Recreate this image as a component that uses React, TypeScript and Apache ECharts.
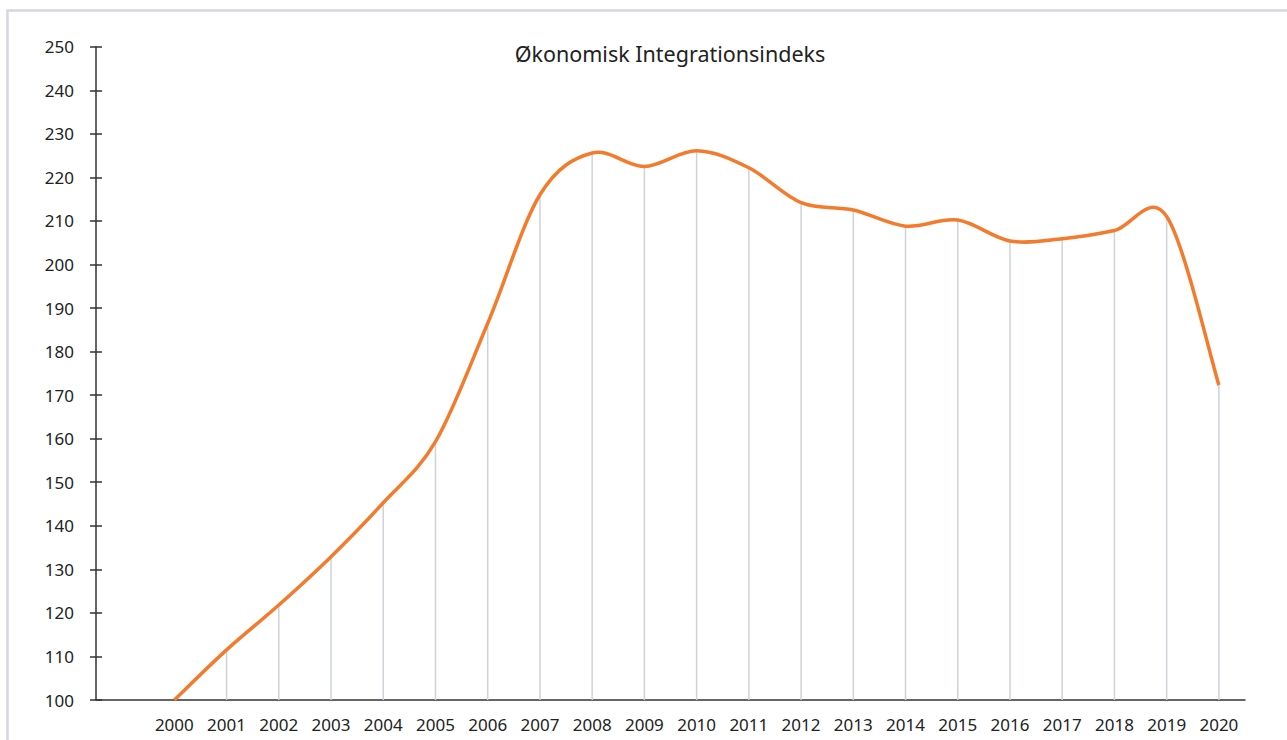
import React, { useEffect, useRef } from "react";
import * as echarts from "echarts";

const years = ["", "2000", "2001", "2002", "2003", "2004", "2005", "2006", "2007", "2008", "2009", "2010", "2011", "2012", "2013", "2014", "2015", "2016", "2017", "2018", "2019", "2020"];
const indexValues = [null, 100, 111.5, 121.8, 132.9, 145.3, 159.3, 186.5, 216.0, 225.6, 222.5, 226.1, 222.2, 214.2, 212.5, 208.8, 210.2, 205.4, 205.9, 207.8, 211.0, 172.3];
const titleText = "Økonomisk Integrationsindeks";

export default function App() {
  const ref = useRef<HTMLDivElement>(null);
  useEffect(() => {
    document.body.style.margin = "0";
    const chart = echarts.init(ref.current!, null, { renderer: "svg" });
    const font = "'Noto Sans', 'Open Sans', sans-serif";

    const points: [number, number][] = [];
    indexValues.forEach((v, i) => {
      if (v !== null) points.push([i, v as number]);
    });

    const renderCurve = (params: any, api: any) => {
      if (params.dataIndex !== 0) return null;
      const pts = points.map((p) => api.coord(p));
      const n = pts.length;
      let d = `M${pts[0][0]},${pts[0][1]}`;
      for (let i = 0; i < n - 1; i++) {
        const p0 = pts[Math.max(i - 1, 0)];
        const p1 = pts[i];
        const p2 = pts[i + 1];
        const p3 = pts[Math.min(i + 2, n - 1)];
        const c1x = p1[0] + (p2[0] - p0[0]) / 6;
        const c1y = p1[1] + (p2[1] - p0[1]) / 6;
        const c2x = p2[0] - (p3[0] - p1[0]) / 6;
        const c2y = p2[1] - (p3[1] - p1[1]) / 6;
        d += ` C${c1x},${c1y} ${c2x},${c2y} ${p2[0]},${p2[1]}`;
      }
      return {
        type: "path",
        shape: { pathData: d },
        style: { fill: "none", stroke: "#f47a2c", lineWidth: 3.5, lineJoin: "round" },
      };
    };

    chart.setOption({
      animation: false,
      backgroundColor: "#ffffff",
      title: {
        text: titleText,
        left: 665,
        top: 37,
        textAlign: "center",
        textStyle: { fontFamily: font, fontSize: 21.5, fontWeight: "normal", color: "#222222" },
      },
      graphic: [
        {
          type: "rect",
          shape: { x: 7.5, y: 10.5, width: 1400, height: 900 },
          style: { fill: "none", stroke: "#d3d8de", lineWidth: 2.5 },
          silent: true,
        },
      ],
      grid: { left: 96, right: 42, top: 46.7, bottom: 40, containLabel: false },
      xAxis: {
        type: "category",
        data: years,
        boundaryGap: true,
        axisLine: { lineStyle: { color: "#333333", width: 1.5 } },
        axisTick: { show: false },
        axisLabel: { fontFamily: font, fontSize: 17, color: "#222222", margin: 16, interval: 0 },
        splitLine: { show: false },
      },
      yAxis: [
        {
          type: "value",
          min: 100,
          max: 250,
          interval: 10,
          axisLine: { show: true, lineStyle: { color: "#333333", width: 1.5 } },
          axisTick: { show: true, length: 6, lineStyle: { color: "#333333", width: 1.5 } },
          axisLabel: { fontFamily: font, fontSize: 17, color: "#222222", margin: 22 },
          splitLine: { show: false },
        },
        {
          type: "value",
          min: 100,
          max: 250,
          interval: 10,
          position: "left",
          axisLine: { show: false },
          axisTick: { show: true, inside: true, length: 6, lineStyle: { color: "#333333", width: 1.5 } },
          axisLabel: { show: false },
          splitLine: { show: false },
        },
      ],
      series: [
        {
          type: "bar",
          data: indexValues,
          barWidth: 1.5,
          clip: true,
          itemStyle: { color: "#cdd3da" },
          silent: true,
        },
        {
          type: "custom",
          data: points,
          encode: { x: 0, y: 1 },
          renderItem: renderCurve,
          clip: false,
          silent: true,
          z: 5,
        },
      ],
    });
    return () => chart.dispose();
  }, []);
  return <div ref={ref} style={{ width: 1287, height: 740 }} />;
}
